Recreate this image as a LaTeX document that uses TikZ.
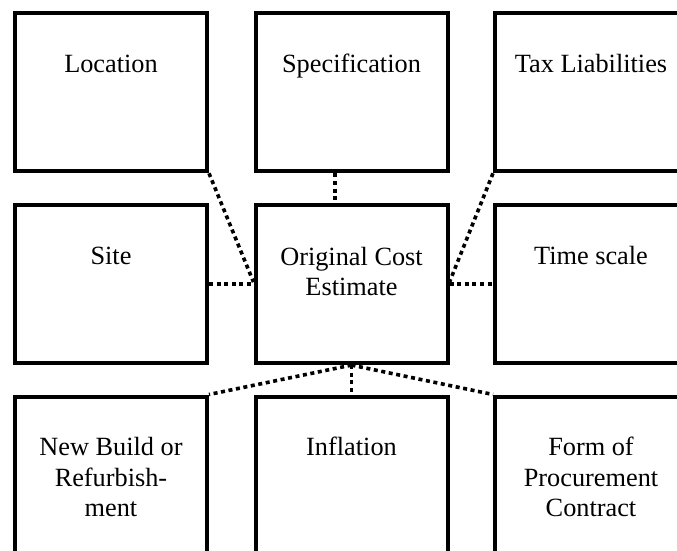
\documentclass[tikz,border=0pt]{standalone}
\usepackage{fontspec}
\setmainfont{Liberation Serif}
\usetikzlibrary{calc}
\begin{document}
\begin{tikzpicture}[x=1bp,y=-1bp,
  box/.style={draw=black,line width=4bp,minimum width=192bp,minimum height=158bp,inner sep=0pt,rectangle},
  lbl/.style={anchor=base,align=center,inner sep=0pt,font=\fontsize{26.4}{30.6}\selectfont},
  dotcon/.style={line width=3.6bp,dash pattern=on 4bp off 3.6bp}]
\useasboundingbox (0,0) rectangle (677,551);
\clip (0,0) rectangle (677,551);
% boxes
\node[box] (loc)  at (111,92.3) {};
\node[box] (spec) at (351.5,92.3) {};
\node[box] (tax)  at (591,92.3) {};
\node[box] (site) at (111,284.1) {};
\node[box] (orig) at (351.5,284.1) {};
\node[box] (time) at (591,284.1) {};
\node[box] (nb)   at (111,475.5) {};
\node[box] (infl) at (351.5,475.5) {};
\node[box] (form) at (591,475.5) {};
% labels (base anchor = baseline of the last line)
\node[lbl] (tloc)  at (111,73) {Location};
\node[lbl] (tspec) at (351.5,73) {Specification};
\node[lbl] (ttax)  at (591,73) {Tax Liabilities};
\node[lbl] (tsite) at (111,265) {Site};
\node[lbl] (torig) at (351.5,295.6) {Original Cost\\Estimate};
\node[lbl] (ttime) at (591,265) {Time scale};
\node[lbl] (tnb)   at (111,516.7) {New Build or\\Refurbish-\\ment};
\node[lbl] (tinfl) at (351.5,455.5) {Inflation};
\node[lbl] (tform) at (591,516.7) {Form of\\Procurement\\Contract};
% connectors
\draw[dotcon] (loc.south east) -- ($(orig.west)+(0,-2)$);
\draw[dotcon] ($(spec.south)+(-16.5,0)$) -- ($(orig.north)+(-16.5,0)$);
\draw[dotcon] (tax.south west) -- ($(orig.east)+(0,-2)$);
\draw[dotcon] (site.east) -- (orig.west);
\draw[dotcon] (orig.east) -- (time.west);
\draw[dotcon] (orig.south) -- (nb.north east);
\draw[dotcon] (orig.south) -- (infl.north);
\draw[dotcon] (orig.south) -- (form.north west);
\end{tikzpicture}
\end{document}
